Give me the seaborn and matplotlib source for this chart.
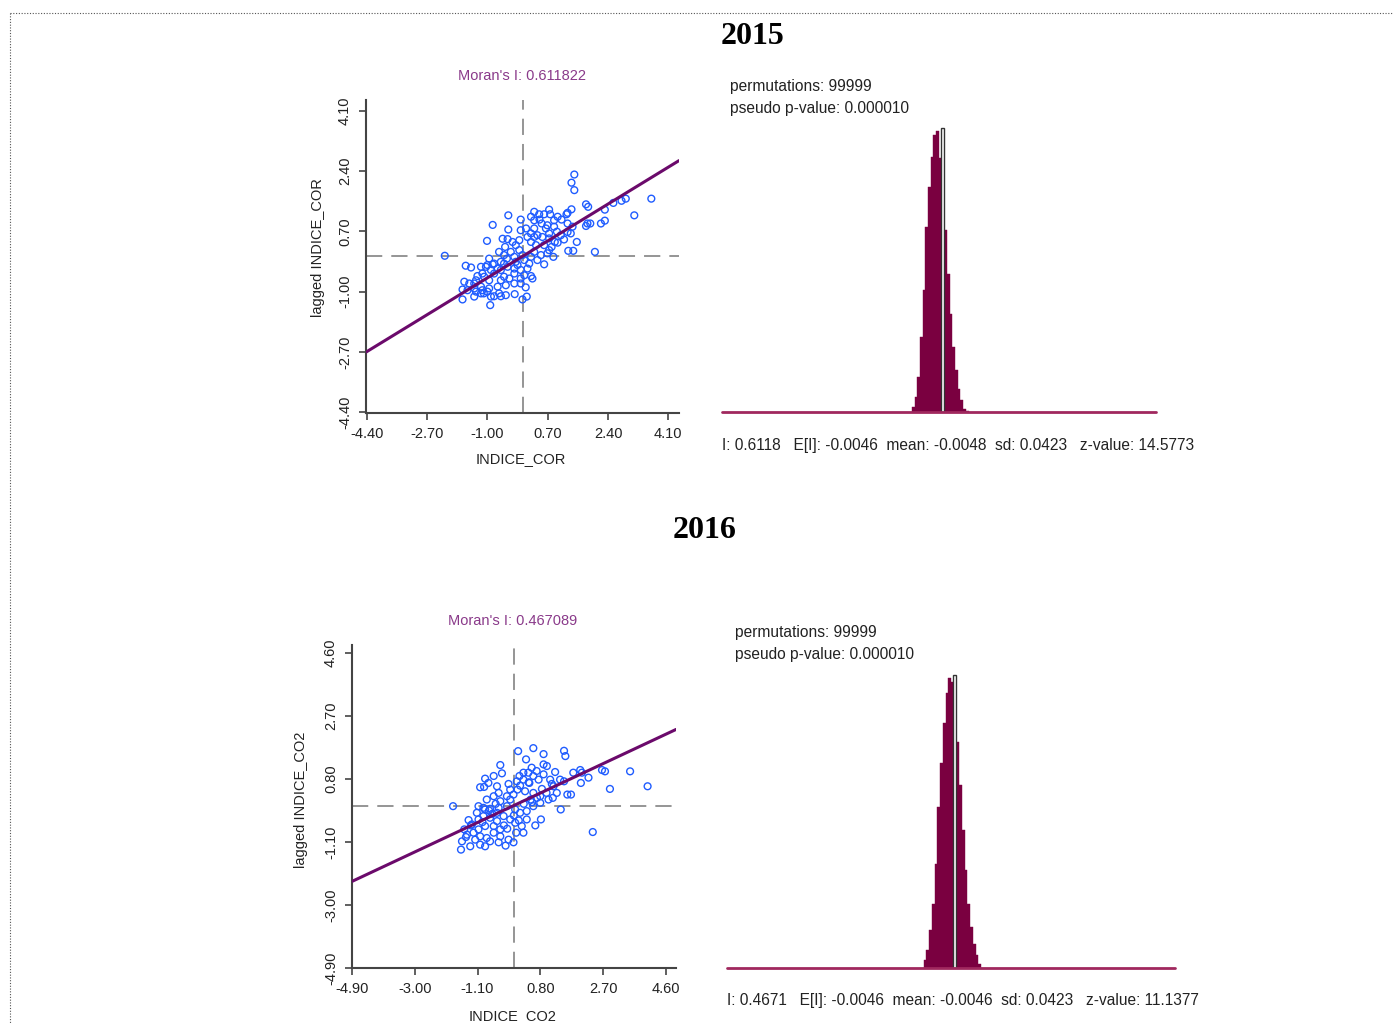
import numpy as np
import pandas as pd
import matplotlib
matplotlib.use("Agg")
import matplotlib.pyplot as plt
from matplotlib.lines import Line2D
import seaborn as sns

# ---------------- data ----------------
years = ["2015", "2016"]
var_names = ["INDICE_COR", "INDICE_CO2"]
morans_i = [0.611822, 0.467089]
x_ticks_2015 = [-4.40, -2.70, -1.00, 0.70, 2.40, 4.10]
x_ticks_2016 = [-4.90, -3.00, -1.10, 0.80, 2.70, 4.60]

x_2015 = [-2.20, 1.45, 1.37, 1.45, 3.62, 2.90, 2.78, 2.55, 3.14, 2.31, 2.31, 2.20, 2.03, 1.78, 1.84,
          1.90, 1.78, 1.52, 1.42, 1.28, 1.37, 1.26, 1.26, 1.35, 1.16, 1.09, 0.88, 0.96, 0.90, 0.86,
          0.74, 0.77, 0.60, 0.46, 0.32, 0.23, 0.32, 0.47, 0.69, 0.74, 0.55, 0.41, 0.23, 0.13, 0.23,
          0.37, 0.60, 0.74, 0.60, 0.23, 0.32, -0.06, -0.41, -0.85, -0.41, -1.01, -0.57, -0.43, -0.10, -0.29,
          -0.50, -0.34, -0.10, -0.01, -0.24, -0.45, -0.62, -0.95, -0.85, -1.04, -0.71, -0.43, -0.15, 0.13, 0.23,
          0.04, -0.24, -0.53, -0.81, -1.09, -1.28, -1.46, -1.61, -1.65, -1.51, -1.37, -1.18, -1.70, -1.56, -1.37,
          -1.14, -0.95, -0.71, -0.48, -0.24, -0.06, 0.08, -1.70, -1.37, -1.10, -0.90, -0.62, -0.48, -0.23, -0.01,
          0.11, -0.92, -0.81, -1.00, -0.67, -1.18, -1.32, -0.95, -0.62, -0.38, -0.06, 0.27, -0.90, -0.62, -0.24,
          -0.06, -0.81, -0.53, -0.20, 0.04, 0.18, 0.41, 0.51, 0.69, 0.81, 0.98, 1.07, 1.26, 1.40, 1.23,
          0.98, 0.88, 0.53, 0.32, 0.09, -0.06, -0.20, -0.53, -0.67, -1.00, -1.18, -1.32, -1.14, 0.32, 0.74,
          0.65, 1.82]
y_2015 = [0.01, 2.30, 2.07, 1.86, 1.62, 1.62, 1.56, 1.50, 1.15, 1.31, 1.00, 0.92, 0.12, 1.46, 1.39,
          0.92, 0.85, 0.40, 0.15, 0.15, 1.32, 1.22, 0.92, 0.64, 0.47, 1.03, 0.83, 0.69, 0.40, -0.02,
          1.31, 1.18, 1.18, 1.18, 1.25, 1.11, 1.01, 1.03, 0.87, 0.64, 0.54, 0.59, 0.64, 0.54, 0.40,
          0.31, 0.31, 0.17, -0.23, -0.02, 0.12, 1.03, 1.15, 0.88, 0.75, 0.43, 0.49, 0.48, 0.45, 0.40,
          0.26, 0.12, 0.17, 0.03, -0.02, -0.07, -0.16, -0.07, -0.23, -0.30, -0.35, -0.30, -0.25, -0.35, -0.56,
          -0.54, -0.49, -0.58, -0.49, -0.58, -0.56, -0.32, -0.27, -0.72, -0.77, -0.77, -0.86, -0.94, -0.96, -0.91,
          -0.96, -0.91, -0.86, -0.82, -0.77, -0.77, -0.88, -1.22, -1.14, -1.05, -1.14, -1.13, -1.10, -1.07, -1.22,
          -1.14, -1.38, -1.13, -1.00, -1.05, -1.05, -1.00, -0.68, -0.68, -0.63, -0.63, -0.63, -0.39, -0.39, -0.35,
          -0.39, -0.21, -0.21, -0.16, -0.11, -0.21, -0.11, 0.03, 0.08, 0.26, 0.38, 0.59, 0.68, 0.83, 1.18,
          1.11, 1.01, 0.92, 0.78, 0.78, 0.73, 0.31, 0.03, 0.12, -0.25, -0.30, -0.68, -0.49, 0.54, 0.50,
          0.78, 0.92]

x_2016 = [-1.84, 0.13, 0.59, 0.37, 0.90, 1.52, 1.56, 3.52, 4.05, 2.91, 2.67, 2.76, 2.39, 2.01, 2.06,
          2.26, 2.03, 1.62, 1.73, 1.42, 1.52, 1.25, 1.00, 0.90, -0.41, -0.36, -0.61, -0.87, -1.02, -0.90,
          -0.77, -0.51, -0.16, 0.17, 0.29, 0.44, 0.59, 0.75, 0.47, 0.19, 0.11, 0.34, 0.59, 0.80, 0.99,
          1.05, 1.20, 1.40, 1.10, -0.01, -0.11, -0.41, -0.61, -0.46, -0.82, -1.07, -0.92, -0.72, -0.46, -0.21,
          0.04, 0.19, 0.39, 0.59, 0.80, 0.39, 0.82, 0.65, 0.24, 0.29, 0.07, -0.01, -0.25, -0.16, -0.41,
          -0.61, -0.82, -1.02, -0.87, -1.17, -1.32, -1.60, -1.57, -1.42, -1.50, -1.37, -1.27, -1.07, -0.92, -0.72,
          -0.51, -0.31, -0.11, 0.04, -1.07, -0.87, -0.61, -0.41, -1.22, -1.02, -0.72, -0.46, -1.12, -0.87, -0.51,
          -0.21, -0.11, 0.09, 0.29, 0.54, 0.69, 0.90, 1.18, 1.30, 1.80, 0.51, 0.70,
          -1.30, -1.45, -0.95, -0.65, -0.30, 0.00, 0.30, 0.55, 0.85, 1.15, -0.75, -0.55, -0.20, 0.15, 0.45]
y_2016 = [-0.02, 1.64, 1.73, 1.39, 1.55, 1.65, 1.49, 1.03, 0.58, 0.50, 1.07, 1.03, -0.80, 1.07, 0.99,
          0.84, 0.68, 0.33, 0.33, -0.12, 0.73, 1.01, 1.19, 1.24, 1.22, 0.97, 0.89, 0.81, 0.55, 0.56,
          0.68, 0.58, 0.65, 0.89, 0.78, 0.99, 0.89, 0.78, 0.68, 0.60, 0.48, 0.43, 0.38, 0.28, 0.38,
          0.18, 0.58, 0.78, 0.78, 0.33, 0.18, 0.13, 0.28, 0.38, 0.18, -0.02, -0.07, -0.10, -0.07, -0.02,
          -0.12, -0.22, -0.17, -0.02, 0.08, -0.42, -0.42, -0.60, -0.62, -0.82, -0.82, -1.11, -1.21, -1.03, -0.93,
          -0.82, -0.98, -1.18, -1.23, -1.03, -1.23, -1.33, -1.08, -0.88, -0.72, -0.44, -0.57, -0.42, -0.32, -0.37,
          -0.47, -0.32, -0.42, -0.52, -0.72, -0.62, -0.62, -0.72, -0.82, -0.93, -1.08, -1.11, -0.22, -0.12, -0.22,
          0.28, 0.48, 0.73, 0.99, 1.14, 1.04, 0.94, 0.23, 0.38, 0.99, 0.18, 0.23,
          -0.60, -0.95, -0.50, -0.25, -0.60, -0.30, 0.05, 0.10, 0.50, 0.65, -0.15, 0.05, -0.70, -0.45, 0.70]

# permutation reference distributions (bin counts)
perm_counts_2015 = [150, 450, 1050, 2250, 3650, 5550, 6750, 7650, 8300, 8430,
                    7600, 6400, 5450, 4150, 2950, 1950, 1250, 700, 350, 100, 40]
perm_counts_2016 = [230, 530, 1130, 1930, 3130, 4830, 6130, 7330, 8230, 8680,
                    8580, 7200, 6780, 5480, 4130, 2930, 1930, 1230, 730, 380, 130]
obs_bin_2015 = 10.45     # position of observed I inside the bin scale
obs_bin_2016 = 10.3
obs_height_2015 = 8500
obs_height_2016 = 8780
permutations = [99999, 99999]
p_values = ["0.000010", "0.000010"]
stat_I = ["0.6118", "0.4671"]
stat_EI = ["-0.0046", "-0.0046"]
stat_mean = ["-0.0048", "-0.0046"]
stat_sd = ["0.0423", "0.0423"]
stat_z = ["14.5773", "11.1377"]

# ---------------- style ----------------
sns.set_theme(style="white")
plt.rcParams["font.family"] = ["Liberation Sans", "DejaVu Sans"]

W, H = 1393, 1023
fig = plt.figure(figsize=(W / 100, H / 100), dpi=100)
fig.patch.set_facecolor("white")


def fx(x):
    return x / W


def fy(y):
    return 1 - y / H


def rect(l, t, r, b):
    return [fx(l), fy(b), (r - l) / W, (b - t) / H]


# dotted page border
fig.add_artist(Line2D([fx(10), fx(1393)], [fy(13), fy(13)], color="#555555", lw=0.8,
                      linestyle=(0, (1, 1.5)), transform=fig.transFigure))
fig.add_artist(Line2D([fx(10), fx(10)], [fy(13), fy(1023)], color="#555555", lw=0.8,
                      linestyle=(0, (1, 1.5)), transform=fig.transFigure))

PURPLE = "#6b0a6b"
BLUE = "#1f5cff"
MAROON = "#7a0040"
BASE = "#a0285e"


def scatter_panel(box, xs, ys, mi, xlim, ylim, ticks, name):
    ax = fig.add_axes(box)
    df = pd.DataFrame({"x": xs, "y": ys})
    ax.axhline(0, color="#8c8c8c", lw=1.3, dashes=(9, 5), zorder=1)
    ax.axvline(0, color="#8c8c8c", lw=1.3, dashes=(9, 5), zorder=1)
    xl = np.array(xlim)
    ax.plot(xl, mi * xl, color=PURPLE, lw=2.2, zorder=3)
    sns.scatterplot(data=df, x="x", y="y", ax=ax, marker="o", s=24,
                    facecolor="none", edgecolor=BLUE, linewidth=1.0, zorder=2)
    ax.set_xlim(xlim)
    ax.set_ylim(ylim)
    ax.set_xticks(ticks)
    ax.set_yticks(ticks)
    ax.set_xticklabels([f"{t:.2f}" for t in ticks])
    ax.set_yticklabels([f"{t:.2f}" for t in ticks], rotation=90, va="center")
    for s in ["top", "right"]:
        ax.spines[s].set_visible(False)
    for s in ["left", "bottom"]:
        ax.spines[s].set_color("#444444")
        ax.spines[s].set_linewidth(1.5)
    ax.tick_params(axis="both", direction="out", length=5, width=1.2, color="#444444",
                   labelsize=10.5, labelcolor="#222222", left=True, bottom=True, pad=5)
    ax.set_xlabel("")
    ax.set_ylabel("")
    ax.set_facecolor("white")
    return ax


def hist_panel(box, counts, obs_pos, obs_h, xlim, ylim):
    ax = fig.add_axes(box)
    idx = list(range(len(counts)))
    sns.barplot(x=idx, y=counts, ax=ax, color=MAROON, width=1.0, saturation=1,
                edgecolor=MAROON, linewidth=0.3)
    ax.bar(obs_pos, obs_h, width=1.0, color="white", edgecolor="#333333", linewidth=1.0,
           align="edge", zorder=5)
    ax.axhline(0, color=BASE, lw=2.0, zorder=6, clip_on=False)
    ax.set_xlim(xlim)
    ax.set_ylim(ylim)
    ax.axis("off")
    return ax


# ---------------- panel 2015 ----------------
scatter_panel(rect(366, 100, 679, 413), x_2015, y_2015, morans_i[0],
              (-4.42, 4.40), (-4.42, 4.40), x_ticks_2015, var_names[0])
hist_panel(rect(722, 125, 1156, 412), perm_counts_2015, obs_bin_2015, obs_height_2015,
           (-70.8, 89.9), (0, 8600))

# ---------------- panel 2016 ----------------
scatter_panel(rect(352, 645, 676, 968), x_2016, y_2016, morans_i[1],
              (-4.90, 4.91), (-4.90, 4.84), x_ticks_2016, var_names[1])
hist_panel(rect(727, 670, 1175, 968), perm_counts_2016, obs_bin_2016, obs_height_2016,
           (-72.0, 91.0), (0, 8930))

# ---------------- texts ----------------
title_kw = dict(family=["Liberation Serif", "DejaVu Serif"], fontweight="bold", fontsize=23,
                ha="center", va="center", color="black")
fig.text(fx(752), fy(37), years[0], **title_kw)
fig.text(fx(705), fy(531), years[1], **title_kw)

mor_kw = dict(fontsize=10.5, color="#8a3a8a", ha="center", va="center")
fig.text(fx(522), fy(76), f"Moran's I: {morans_i[0]:.6f}", **mor_kw)
fig.text(fx(513), fy(621), f"Moran's I: {morans_i[1]:.6f}", **mor_kw)

lab_kw = dict(fontsize=10.5, color="#222222", ha="center", va="center")
fig.text(fx(521), fy(459), var_names[0], **lab_kw)
fig.text(fx(318), fy(248), f"lagged {var_names[0]}", rotation=90, **lab_kw)
fig.text(fx(513), fy(1016), var_names[1], **lab_kw)
fig.text(fx(301), fy(800), f"lagged {var_names[1]}", rotation=90, **lab_kw)

info_kw = dict(fontsize=11.2, color="#222222", ha="left", va="center")
fig.text(fx(730), fy(86), f"permutations: {permutations[0]}", **info_kw)
fig.text(fx(730), fy(108), f"pseudo p-value: {p_values[0]}", **info_kw)
fig.text(fx(735), fy(632), f"permutations: {permutations[1]}", **info_kw)
fig.text(fx(735), fy(654), f"pseudo p-value: {p_values[1]}", **info_kw)

stat_kw = dict(fontsize=11.2, color="#222222", ha="left", va="center")
fig.text(fx(722), fy(445),
         f"I: {stat_I[0]}   E[I]: {stat_EI[0]}  mean: {stat_mean[0]}  sd: {stat_sd[0]}   z-value: {stat_z[0]}",
         **stat_kw)
fig.text(fx(727), fy(1001),
         f"I: {stat_I[1]}   E[I]: {stat_EI[1]}  mean: {stat_mean[1]}  sd: {stat_sd[1]}   z-value: {stat_z[1]}",
         **stat_kw)

fig.savefig("out.png", dpi=100, facecolor="white")
